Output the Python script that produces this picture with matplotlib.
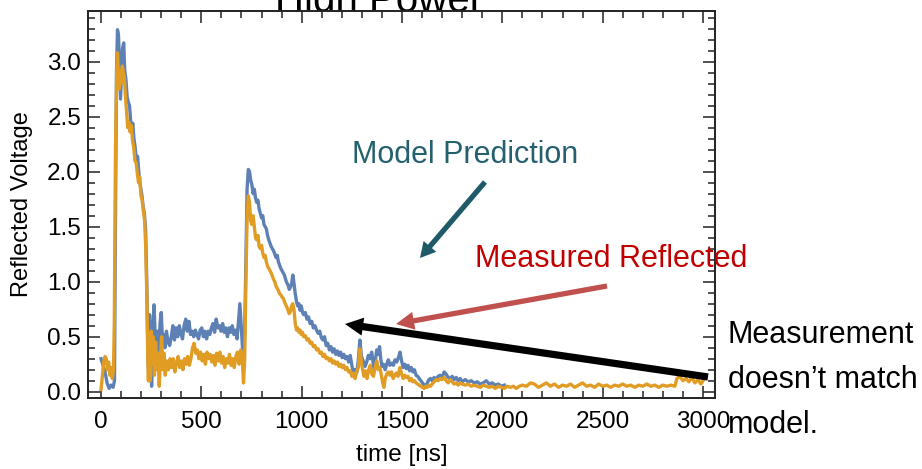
import numpy as np
import matplotlib.pyplot as plt
from matplotlib.patches import FancyArrowPatch
from matplotlib.ticker import MultipleLocator

# Model prediction, (time [ns], reflected voltage)
model_pre = [(0, 0.30), (10, 0.24), (20, 0.18), (30, 0.08), (40, 0.03), (50, 0.06),
             (60, 0.04), (67, 0.10)]
model_pulse1 = [(72, 1.60), (77, 2.90), (82, 3.29), (87, 3.24), (92, 2.95), (97, 2.66),
                (102, 2.88), (107, 3.12), (113, 3.17), (118, 2.92), (124, 2.84), (130, 2.68),
                (136, 2.63), (142, 2.60), (148, 2.45), (153, 2.38), (158, 2.44), (164, 2.30),
                (170, 2.22), (176, 2.10), (182, 2.14), (188, 2.00), (193, 1.90), (198, 1.85),
                (204, 1.78), (210, 1.68), (216, 1.62), (222, 1.48), (228, 1.00), (233, 0.40)]
model_flat = [(238, 0.10), (242, 0.70), (247, 0.45), (252, 0.05), (258, 0.50), (264, 0.79),
              (270, 0.50), (276, 0.38), (282, 0.55), (288, 0.35), (294, 0.62), (300, 0.72),
              (306, 0.48), (312, 0.52), (318, 0.40), (326, 0.55), (334, 0.45), (342, 0.42),
              (350, 0.50), (358, 0.60), (366, 0.47), (374, 0.58), (382, 0.50), (390, 0.60),
              (398, 0.53), (406, 0.48), (414, 0.60), (422, 0.66), (430, 0.55), (438, 0.64),
              (446, 0.52), (454, 0.55), (462, 0.50), (470, 0.56), (478, 0.52), (486, 0.48),
              (494, 0.56), (502, 0.58), (510, 0.50), (518, 0.55), (526, 0.48), (534, 0.55),
              (542, 0.52), (550, 0.58), (558, 0.62), (566, 0.54), (574, 0.66), (582, 0.58),
              (590, 0.60), (598, 0.55), (606, 0.62), (614, 0.54), (622, 0.58), (630, 0.50),
              (638, 0.58), (646, 0.54), (654, 0.60), (662, 0.52), (670, 0.56), (678, 0.48),
              (686, 0.66), (692, 0.80), (698, 0.62), (704, 0.45), (710, 0.25), (716, 0.55),
              (722, 1.20), (728, 1.85), (734, 2.02), (740, 2.00)]
model_pulse2 = [(746, 1.92), (752, 1.88), (758, 1.80), (764, 1.84), (770, 1.76), (776, 1.72),
                (782, 1.74), (788, 1.66), (794, 1.62), (800, 1.58), (806, 1.60), (812, 1.52),
                (818, 1.50), (824, 1.48), (830, 1.42), (836, 1.38), (842, 1.35), (848, 1.32),
                (854, 1.30), (860, 1.28), (866, 1.25), (872, 1.22), (878, 1.24), (884, 1.18),
                (890, 1.15), (896, 1.12), (902, 1.10), (908, 1.08), (914, 1.06), (920, 1.02),
                (926, 0.99), (932, 0.97), (938, 0.93), (944, 0.95), (950, 0.98), (956, 1.06),
                (962, 0.98), (968, 0.89), (974, 0.82), (980, 0.78), (986, 0.80), (992, 0.74),
                (998, 0.78), (1004, 0.72), (1010, 0.70), (1018, 0.72), (1026, 0.66), (1034, 0.68),
                (1042, 0.62), (1050, 0.64), (1058, 0.58), (1066, 0.60), (1074, 0.56), (1082, 0.53),
                (1090, 0.55), (1098, 0.49), (1106, 0.47), (1114, 0.50), (1122, 0.42), (1130, 0.44),
                (1138, 0.38), (1146, 0.41), (1154, 0.36), (1162, 0.39), (1170, 0.34), (1178, 0.37),
                (1186, 0.33), (1194, 0.36), (1202, 0.31), (1210, 0.34), (1218, 0.30), (1226, 0.32),
                (1234, 0.27), (1242, 0.33), (1250, 0.24), (1258, 0.17), (1266, 0.20), (1274, 0.17),
                (1282, 0.28), (1290, 0.47), (1298, 0.32), (1304, 0.29), (1316, 0.23), (1324, 0.27),
                (1332, 0.33), (1340, 0.30), (1349, 0.36), (1355, 0.28), (1361, 0.20), (1368, 0.30),
                (1374, 0.38), (1382, 0.34), (1388, 0.41), (1394, 0.30), (1400, 0.23), (1408, 0.25),
                (1416, 0.20), (1424, 0.25), (1432, 0.29), (1440, 0.24), (1449, 0.26), (1457, 0.24),
                (1465, 0.29), (1474, 0.27), (1482, 0.31), (1490, 0.36), (1498, 0.28), (1506, 0.22),
                (1514, 0.25), (1522, 0.21), (1530, 0.24), (1538, 0.19), (1546, 0.22), (1554, 0.18),
                (1562, 0.20), (1570, 0.15), (1578, 0.14), (1586, 0.12), (1594, 0.10), (1602, 0.08),
                (1610, 0.06), (1618, 0.05), (1626, 0.08), (1634, 0.11), (1642, 0.12), (1650, 0.10),
                (1660, 0.13), (1670, 0.11), (1680, 0.14), (1690, 0.15), (1700, 0.13), (1710, 0.18),
                (1720, 0.16), (1730, 0.13), (1740, 0.12), (1750, 0.14), (1760, 0.11), (1770, 0.13),
                (1780, 0.10), (1790, 0.12), (1800, 0.09), (1815, 0.11), (1830, 0.09), (1845, 0.10),
                (1860, 0.08), (1875, 0.09), (1890, 0.07), (1905, 0.08), (1920, 0.10), (1935, 0.07),
                (1950, 0.08), (1965, 0.06), (1980, 0.07), (1995, 0.05), (2010, 0.06)]

# Measured reflected voltage
meas_pre = [(0, 0.02), (7, 0.15), (14, 0.28), (20, 0.32), (26, 0.30), (32, 0.20), (38, 0.27),
            (44, 0.15), (50, 0.22), (56, 0.12), (62, 0.20)]
meas_pulse1 = [(66, 0.60), (72, 2.20), (78, 2.90), (82, 3.08), (87, 2.85), (91, 2.75), (96, 2.92),
               (101, 2.80), (106, 2.96), (111, 2.90), (116, 2.86), (121, 2.70), (127, 2.55),
               (133, 2.40), (139, 2.45), (145, 2.36), (151, 2.42), (157, 2.28), (163, 2.22),
               (169, 2.10), (175, 2.08), (181, 1.98), (187, 1.90), (193, 1.95), (199, 1.78),
               (205, 1.74), (211, 1.64), (217, 1.56), (223, 1.30), (229, 0.80), (233, 0.30)]
meas_flat = [(236, 0.10), (240, 0.40), (245, 0.10), (250, 0.55), (255, 0.25), (260, 0.50),
             (266, 0.15), (272, 0.45), (278, 0.20), (284, 0.35), (290, 0.05), (296, 0.30),
             (302, 0.50), (308, 0.20), (314, 0.35), (320, 0.15), (328, 0.28), (336, 0.20),
             (344, 0.30), (352, 0.22), (360, 0.30), (368, 0.18), (376, 0.26), (384, 0.32),
             (392, 0.22), (400, 0.28), (408, 0.20), (416, 0.30), (424, 0.25), (432, 0.32),
             (440, 0.24), (448, 0.30), (456, 0.40), (464, 0.44), (472, 0.35), (480, 0.38),
             (488, 0.30), (496, 0.36), (504, 0.28), (512, 0.34), (520, 0.25), (528, 0.36),
             (536, 0.30), (544, 0.34), (552, 0.27), (560, 0.33), (568, 0.24), (576, 0.35),
             (584, 0.28), (592, 0.36), (600, 0.26), (608, 0.32), (616, 0.22), (624, 0.30),
             (632, 0.26), (640, 0.34), (648, 0.24), (656, 0.30), (664, 0.22), (672, 0.32),
             (680, 0.36), (688, 0.25), (696, 0.38), (704, 0.30), (710, 0.08), (716, 0.30),
             (722, 1.00), (728, 1.60), (734, 1.78), (740, 1.72)]
meas_pulse2 = [(746, 1.55), (752, 1.52), (758, 1.60), (764, 1.50), (770, 1.40), (776, 1.38),
               (782, 1.42), (788, 1.32), (794, 1.30), (800, 1.33), (806, 1.26), (812, 1.22),
               (818, 1.24), (824, 1.18), (830, 1.14), (836, 1.12), (842, 1.10), (848, 1.08),
               (854, 1.05), (860, 1.02), (866, 1.00), (872, 0.96), (878, 0.94), (884, 0.92),
               (890, 0.89), (896, 0.88), (902, 0.86), (908, 0.85), (914, 0.82), (920, 0.79),
               (926, 0.77), (932, 0.74), (938, 0.71), (944, 0.73), (950, 0.78), (956, 0.80),
               (962, 0.74), (968, 0.62), (974, 0.56), (980, 0.58), (986, 0.54), (992, 0.56),
               (998, 0.52), (1004, 0.54), (1010, 0.50), (1018, 0.51), (1026, 0.47), (1034, 0.48),
               (1042, 0.44), (1050, 0.45), (1058, 0.41), (1066, 0.42), (1074, 0.38), (1082, 0.39),
               (1090, 0.35), (1098, 0.36), (1106, 0.32), (1114, 0.34), (1122, 0.30), (1130, 0.31),
               (1138, 0.28), (1146, 0.30), (1154, 0.26), (1162, 0.28), (1170, 0.25), (1178, 0.27),
               (1186, 0.23), (1194, 0.25), (1202, 0.22), (1210, 0.24), (1218, 0.20), (1226, 0.22),
               (1234, 0.18), (1242, 0.19), (1250, 0.14), (1258, 0.17), (1266, 0.12), (1274, 0.18),
               (1282, 0.22), (1290, 0.39), (1298, 0.26), (1304, 0.20), (1310, 0.14), (1318, 0.19),
               (1326, 0.12), (1334, 0.20), (1342, 0.24), (1350, 0.16), (1358, 0.14), (1366, 0.22),
               (1374, 0.28), (1382, 0.20), (1390, 0.22), (1398, 0.14), (1404, 0.08), (1410, 0.04),
               (1416, 0.12), (1424, 0.16), (1432, 0.18), (1440, 0.15), (1448, 0.18), (1456, 0.12),
               (1464, 0.15), (1472, 0.17), (1480, 0.14), (1490, 0.22), (1498, 0.16), (1506, 0.12),
               (1514, 0.15), (1522, 0.13), (1530, 0.14), (1538, 0.10), (1546, 0.12), (1554, 0.09),
               (1562, 0.10), (1570, 0.08), (1578, 0.07), (1586, 0.06), (1594, 0.05), (1602, 0.04),
               (1610, 0.03), (1618, 0.05), (1626, 0.04), (1634, 0.06), (1642, 0.05), (1650, 0.07),
               (1660, 0.09), (1670, 0.11), (1680, 0.10), (1690, 0.12), (1700, 0.11), (1710, 0.13),
               (1720, 0.10), (1730, 0.08), (1740, 0.11), (1750, 0.09), (1760, 0.07), (1770, 0.08),
               (1780, 0.06), (1790, 0.08), (1800, 0.07), (1815, 0.06), (1830, 0.07), (1845, 0.05),
               (1860, 0.06), (1875, 0.05), (1890, 0.04), (1905, 0.06), (1920, 0.05), (1935, 0.04),
               (1950, 0.05), (1965, 0.03), (1980, 0.05), (1995, 0.04), (2010, 0.03), (2025, 0.05),
               (2040, 0.04), (2055, 0.05), (2070, 0.03), (2085, 0.05)]
meas_tail = [(2100, 0.06), (2120, 0.05), (2140, 0.08), (2160, 0.07), (2180, 0.04), (2200, 0.06),
             (2220, 0.08), (2240, 0.05), (2260, 0.07), (2280, 0.04), (2300, 0.06), (2320, 0.05),
             (2340, 0.07), (2360, 0.04), (2380, 0.06), (2400, 0.08), (2420, 0.05), (2440, 0.06),
             (2460, 0.04), (2480, 0.07), (2500, 0.05), (2520, 0.06), (2540, 0.04), (2560, 0.06),
             (2580, 0.05), (2600, 0.07), (2620, 0.05), (2640, 0.06), (2660, 0.04), (2680, 0.06),
             (2700, 0.05), (2720, 0.07), (2740, 0.05), (2760, 0.06), (2780, 0.04), (2800, 0.06),
             (2820, 0.05), (2840, 0.06), (2860, 0.05), (2870, 0.12), (2885, 0.14), (2900, 0.10),
             (2915, 0.12), (2930, 0.09), (2945, 0.13), (2960, 0.08), (2975, 0.11), (2990, 0.07),
             (3000, 0.10)]

x_ticks = [0, 500, 1000, 1500, 2000, 2500, 3000]
y_ticks = [0.0, 0.5, 1.0, 1.5, 2.0, 2.5, 3.0]

BLUE = '#5e81b5'
ORANGE = '#e19c24'
TEAL = '#25606e'


def unpack(*segments):
    pts = np.array([p for seg in segments for p in seg], dtype=float)
    return pts[:, 0], pts[:, 1]


model_t, model_v = unpack(model_pre, model_pulse1, model_flat, model_pulse2)
meas_t, meas_v = unpack(meas_pre, meas_pulse1, meas_flat, meas_pulse2, meas_tail)

plt.rcParams['font.family'] = ['Liberation Sans', 'DejaVu Sans']

W, H = 922, 469
fig = plt.figure(figsize=(W / 100, H / 100), dpi=100)
ax = fig.add_axes([88 / W, 1 - 398 / H, (715 - 88) / W, (398 - 11) / H])

ax.plot(model_t, model_v, color=BLUE, lw=2.4)
ax.plot(meas_t, meas_v, color=ORANGE, lw=2.4)

ax.set_xlim(-65, 3060)
ax.set_ylim(-0.057, 3.46)
ax.set_xticks(x_ticks)
ax.set_yticks(y_ticks)
ax.set_yticklabels([f'{v:.1f}' for v in y_ticks])
ax.xaxis.set_minor_locator(MultipleLocator(100))
ax.yaxis.set_minor_locator(MultipleLocator(0.1))
ax.tick_params(which='both', direction='in', top=True, right=True, width=1.1, colors='#222222',
               labelcolor='black', labelsize=17.5)
ax.tick_params(which='major', length=8.5)
ax.tick_params(which='minor', length=4.8)
ax.tick_params(axis='x', pad=9.5)
ax.tick_params(axis='y', pad=5)
for s in ax.spines.values():
    s.set_linewidth(1.4)
    s.set_color('#222222')

ax.set_xlabel('time [ns]', fontsize=17.5, labelpad=8)
ax.set_ylabel('Reflected Voltage', fontsize=17, labelpad=10)

# slide title, partly hidden behind the plot
fig.text(379 / W, 1 - 12 / H, 'High Power', ha='center', va='baseline', fontsize=29, zorder=-1)

fig.text(465 / W, 1 - 163 / H, 'Model Prediction', color=TEAL, fontsize=22,
         ha='center', va='baseline')
fig.text(611 / W, 1 - 267 / H, 'Measured Reflected', color='#c00000', fontsize=22,
         ha='center', va='baseline')
for txt, base in [('Measurement', 343), ('doesn\u2019t match', 388), ('model.', 433)]:
    fig.text(728 / W, 1 - base / H, txt, color='black', fontsize=22,
             ha='left', va='baseline')


def arrow(x0, y0, x1, y1, color, tail, head_w, head_l):
    a = FancyArrowPatch((x0 / W, 1 - y0 / H), (x1 / W, 1 - y1 / H), transform=fig.transFigure,
                        arrowstyle=f'simple,head_length={head_l},head_width={head_w},tail_width={tail}',
                        mutation_scale=1, color=color, shrinkA=0, shrinkB=0, lw=0)
    fig.add_artist(a)


arrow(485, 182, 420, 258, '#1f5a69', 3.8, 12, 11)
arrow(607, 286, 396, 324, '#c0504d', 3.8, 13, 13)
arrow(708, 377, 345, 324, 'black', 5.2, 13, 13)

fig.savefig('out.png', dpi=100)
